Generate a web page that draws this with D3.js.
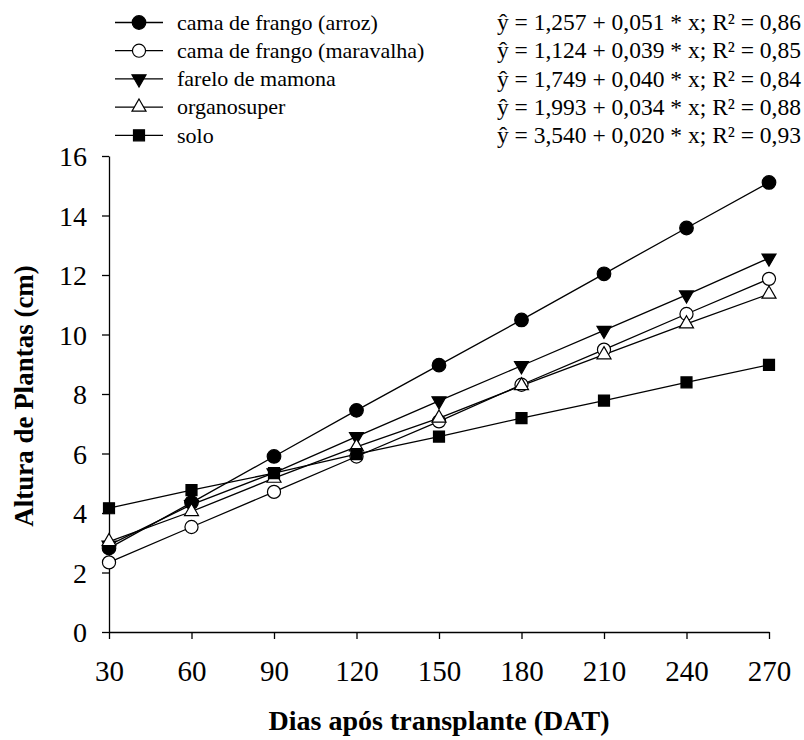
<!DOCTYPE html>
<html>
<head>
<meta charset="utf-8">
<script src="https://cdn.jsdelivr.net/npm/d3@7"></script>
<style>
  body { margin: 0; background: #fff; }
  svg text { font-family: "Liberation Serif", "Times New Roman", Times, serif; fill: #000; }
</style>
</head>
<body>
<div id="chart"></div>
<script>
// days after transplant
const dias = [30, 60, 90, 120, 150, 180, 210, 240, 270]

// plant height (cm) per treatment
const arroz = [2.82, 4.35, 5.90, 7.45, 8.97, 10.49, 12.04, 13.58, 15.11]
const maravalha = [2.34, 3.53, 4.71, 5.90, 7.08, 8.31, 9.49, 10.69, 11.87]
const mamona = [2.92, 4.28, 5.35, 6.57, 7.77, 8.95, 10.14, 11.33, 12.57]
const organosuper = [3.04, 4.05, 5.17, 6.22, 7.19, 8.28, 9.32, 10.36, 11.36]
const solo = [4.16, 4.77, 5.34, 5.98, 6.57, 7.19, 7.78, 8.39, 8.98]

const seriesNames = ["cama de frango (arroz)", "cama de frango (maravalha)", "farelo de mamona", "organosuper", "solo"]
const equations = [
    "ŷ = 1,257 + 0,051 * x; R² = 0,86",
    "ŷ = 1,124 + 0,039 * x; R² = 0,85",
    "ŷ = 1,749 + 0,040 * x; R² = 0,84",
    "ŷ = 1,993 + 0,034 * x; R² = 0,88",
    "ŷ = 3,540 + 0,020 * x; R² = 0,93"
]
const yTicks = [0, 2, 4, 6, 8, 10, 12, 14, 16]

const serifFont = "'Liberation Serif', 'Times New Roman', Times, serif"

// marker style for each series
const markers = [
    { type: d3.symbolCircle, size: 145, fill: "#000", rot: 0 },
    { type: d3.symbolCircle, size: 135, fill: "#fff", rot: 0 },
    { type: d3.symbolTriangle, size: 85, fill: "#000", rot: 180 },
    { type: d3.symbolTriangle, size: 85, fill: "#fff", rot: 0 },
    { type: d3.symbolSquare, size: 121, fill: "#000", rot: 0 }
]

const allSeries = [arroz, maravalha, mamona, organosuper, solo].map((vals, i) => ({
    name: seriesNames[i],
    marker: markers[i],
    points: vals.map((v, j) => ({ x: dias[j], y: v }))
}))

let width = 804, height = 740
let svg = d3.select("#chart").append("svg")
    .attr("width", width)
    .attr("height", height)
    .style("font-family", serifFont)

const x = d3.scaleLinear().domain([30, 270]).range([109, 769])
const y = d3.scaleLinear().domain([0, 16]).range([632, 156])

// axes
let xAxis = svg.append("g")
    .attr("transform", `translate(0,${y(0)})`)
    .call(d3.axisBottom(x).tickValues(dias).tickSize(7).tickSizeOuter(0))
let yAxis = svg.append("g")
    .attr("transform", `translate(${x(30)},0)`)
    .call(d3.axisLeft(y).tickValues(yTicks).tickSize(7).tickPadding(15).tickSizeOuter(0))

for (const ax of [xAxis, yAxis]) {
    ax.attr("font-family", null)
    ax.select(".domain").attr("stroke", "#000").attr("stroke-width", 1.3)
    ax.selectAll(".tick line").attr("stroke", "#000").attr("stroke-width", 1.3)
    ax.selectAll(".tick text")
        .style("font-family", serifFont)
        .style("font-size", "28px")
        .attr("fill", "#000")
}
xAxis.selectAll(".tick text").attr("y", 28).attr("dy", "0.71em").style("font-size", "29px")
yAxis.selectAll(".tick text").attr("dy", "0.34em")

// axis titles
svg.append("text")
    .attr("x", 439).attr("y", 730)
    .attr("text-anchor", "middle")
    .style("font-size", "28px").style("font-weight", "bold")
    .text("Dias após transplante (DAT)")
svg.append("text")
    .attr("transform", "translate(33,396) rotate(-90)")
    .attr("text-anchor", "middle")
    .style("font-size", "27px").style("font-weight", "bold")
    .text("Altura de Plantas (cm)")

let line = d3.line().x(d => x(d.x)).y(d => y(d.y))

let symbolPath = m => d3.symbol().type(m.type).size(m.size)()

// lines first, then markers on top
svg.selectAll(".series-line")
    .data(allSeries)
    .enter().append("path")
    .attr("class", "series-line")
    .attr("fill", "none")
    .attr("stroke", "#000")
    .attr("stroke-width", 1.3)
    .attr("d", d => line(d.points))

allSeries.forEach(s => {
    svg.append("g").selectAll("path")
        .data(s.points)
        .enter().append("path")
        .attr("d", symbolPath(s.marker))
        .attr("transform", d => `translate(${x(d.x)},${y(d.y)}) rotate(${s.marker.rot})`)
        .attr("fill", s.marker.fill)
        .attr("stroke", "#000")
        .attr("stroke-width", 1.2)
})

// legend
let legend = svg.append("g")
let rowY = i => 22.5 + i * 28.2
allSeries.forEach((s, i) => {
    let g = legend.append("g").attr("transform", `translate(0,${rowY(i)})`)
    g.append("line").attr("x1", 115).attr("x2", 163).attr("y1", 0).attr("y2", 0)
        .attr("stroke", "#000").attr("stroke-width", 1.3)
    g.append("path")
        .attr("d", symbolPath(s.marker))
        .attr("transform", `translate(139,0) rotate(${s.marker.rot})`)
        .attr("fill", s.marker.fill)
        .attr("stroke", "#000")
        .attr("stroke-width", 1.2)
    g.append("text")
        .attr("x", 177).attr("y", 0).attr("dy", "0.33em")
        .style("font-size", "22px")
        .text(s.name)
})

// regression equations
svg.selectAll(".eq")
    .data(equations)
    .enter().append("text")
    .attr("class", "eq")
    .attr("x", 801)
    .attr("y", (d, i) => rowY(i))
    .attr("dy", "0.33em")
    .attr("text-anchor", "end")
    .style("font-size", "23.5px")
    .text(d => d)
</script>
</body>
</html>
